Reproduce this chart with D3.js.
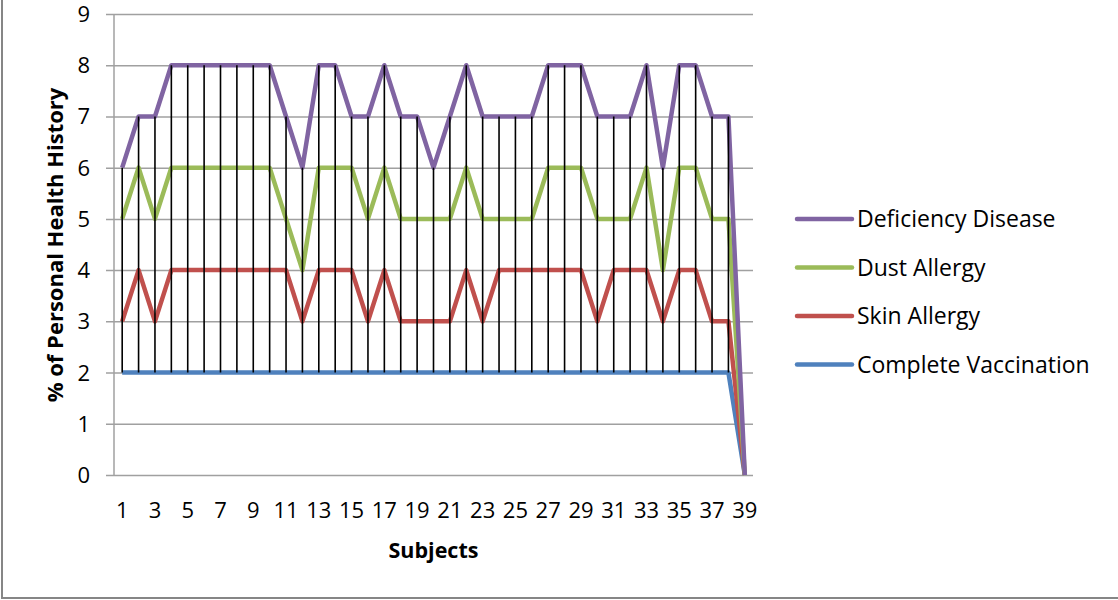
<!DOCTYPE html>
<html>
<head>
<meta charset="utf-8">
<script src="https://cdn.jsdelivr.net/npm/d3@7"></script>
<style>
  body { margin: 0; background: #fff; }
  svg { display: block; font-family: "Open Sans", sans-serif; }
</style>
</head>
<body>
<div id="chart"></div>
<script>
// data, one value per subject (stacked in the chart)
var subjects = d3.range(1, 40)
var vaccination = [2,2,2,2,2,2,2,2,2,2,2,2,2,2,2,2,2,2,2,2,2,2,2,2,2,2,2,2,2,2,2,2,2,2,2,2,2,2,0]
var skin = [1,2,1,2,2,2,2,2,2,2,2,1,2,2,2,1,2,1,1,1,1,2,1,2,2,2,2,2,2,1,2,2,2,1,2,2,1,1,0]
var dust = [2,2,2,2,2,2,2,2,2,2,1,1,2,2,2,2,2,2,2,2,2,2,2,1,1,1,2,2,2,2,1,1,2,1,2,2,2,2,0]
var deficiency = [1,1,2,2,2,2,2,2,2,2,2,2,2,2,1,2,2,2,2,1,2,2,2,2,2,2,2,2,2,2,2,2,2,2,2,2,2,2,0]
var yTicks = [0,1,2,3,4,5,6,7,8,9]

var seriesNames = ['Complete Vaccination', 'Skin Allergy', 'Dust Allergy', 'Deficiency Disease']
var seriesValues = [vaccination, skin, dust, deficiency]
var colors = ['#4f81bd', '#c0504d', '#9bbb59', '#8064a2']

var width = 1118,
    height = 600,
    plotLeft = 114, plotRight = 753,
    plotTop = 14, plotBottom = 475

var svg = d3.select('#chart')
    .append('svg')
    .attr('width', width)
    .attr('height', height)

// rows for d3.stack
var rows = subjects.map((s, i) => {
    var r = { subject: s }
    seriesNames.forEach((n, j) => { r[n] = seriesValues[j][i] })
    return r
})
var stacked = d3.stack().keys(seriesNames)(rows)

// scales
var xscale = d3.scaleBand()
    .domain(subjects)
    .range([plotLeft, plotRight])
    .padding(0)
var xc = d => xscale(d) + xscale.bandwidth() / 2

var yscale = d3.scaleLinear()
    .domain([0, 9])
    .range([plotBottom, plotTop])

// outer border (left and bottom only visible)
svg.append('path')
    .attr('d', 'M2,0V598H1118')
    .attr('fill', 'none')
    .attr('stroke', '#868686')
    .attr('stroke-width', 2)

// gridlines + y ticks
var yaxis = d3.axisLeft(yscale)
    .tickValues(yTicks)
    .tickSize(0)
var gy = svg.append('g')
    .attr('transform', `translate(${plotLeft - 8},0)`)
    .call(yaxis)
gy.select('.domain').remove()
gy.selectAll('.tick line')
    .attr('x1', 0)
    .attr('x2', plotRight - plotLeft + 8)
    .attr('stroke', '#a0a0a0')
    .attr('stroke-width', 1.5)
gy.selectAll('.tick text')
    .attr('x', -16)
    .attr('dy', '0.34em')
    .attr('font-size', 22)
    .attr('font-family', 'Open Sans')
    .attr('fill', '#000')

svg.append('line')
    .attr('x1', plotLeft).attr('x2', plotLeft)
    .attr('y1', plotTop).attr('y2', plotBottom)
    .attr('stroke', '#a0a0a0')
    .attr('stroke-width', 1.5)

// x tick labels (every other subject)
svg.append('g').selectAll('text')
    .data(subjects.filter(s => s % 2 === 1))
    .enter()
    .append('text')
    .attr('x', d => xc(d))
    .attr('y', 518)
    .attr('text-anchor', 'middle')
    .attr('font-size', 22)
    .text(d => d)

// series lines
var line = d3.line()
    .x((d, i) => xc(subjects[i]))
    .y(d => yscale(d[1]))

svg.append('g').selectAll('path')
    .data(stacked)
    .enter()
    .append('path')
    .attr('d', d => line(d))
    .attr('fill', 'none')
    .attr('stroke', (d, i) => colors[i])
    .attr('stroke-width', 4.5)
    .attr('stroke-linejoin', 'round')

// high-low lines
var lowS = stacked[0], highS = stacked[stacked.length - 1]
svg.append('g').selectAll('line')
    .data(subjects)
    .enter()
    .append('line')
    .attr('x1', d => xc(d))
    .attr('x2', d => xc(d))
    .attr('y1', (d, i) => yscale(lowS[i][1]))
    .attr('y2', (d, i) => yscale(highS[i][1]))
    .attr('stroke', '#000')
    .attr('stroke-width', 1.6)

// axis titles
svg.append('text')
    .attr('transform', 'translate(63,245) rotate(-90)')
    .attr('text-anchor', 'middle')
    .attr('font-size', 22)
    .attr('font-weight', 'bold')
    .text('% of Personal Health History')

svg.append('text')
    .attr('x', (plotLeft + plotRight) / 2)
    .attr('y', 558)
    .attr('text-anchor', 'middle')
    .attr('font-size', 21.5)
    .attr('font-weight', 'bold')
    .text('Subjects')

// legend
var legendOrder = [3, 2, 1, 0]
var lg = svg.append('g').selectAll('g')
    .data(legendOrder)
    .enter()
    .append('g')
    .attr('transform', (d, i) => `translate(797,${219 + i * 48.5})`)
lg.append('line')
    .attr('x1', 0).attr('x2', 55)
    .attr('stroke', d => colors[d])
    .attr('stroke-width', 4.5)
    .attr('stroke-linecap', 'round')
lg.append('text')
    .attr('x', 60)
    .attr('y', 8)
    .attr('font-size', 23)
    .text(d => seriesNames[d])
</script>
</body>
</html>
